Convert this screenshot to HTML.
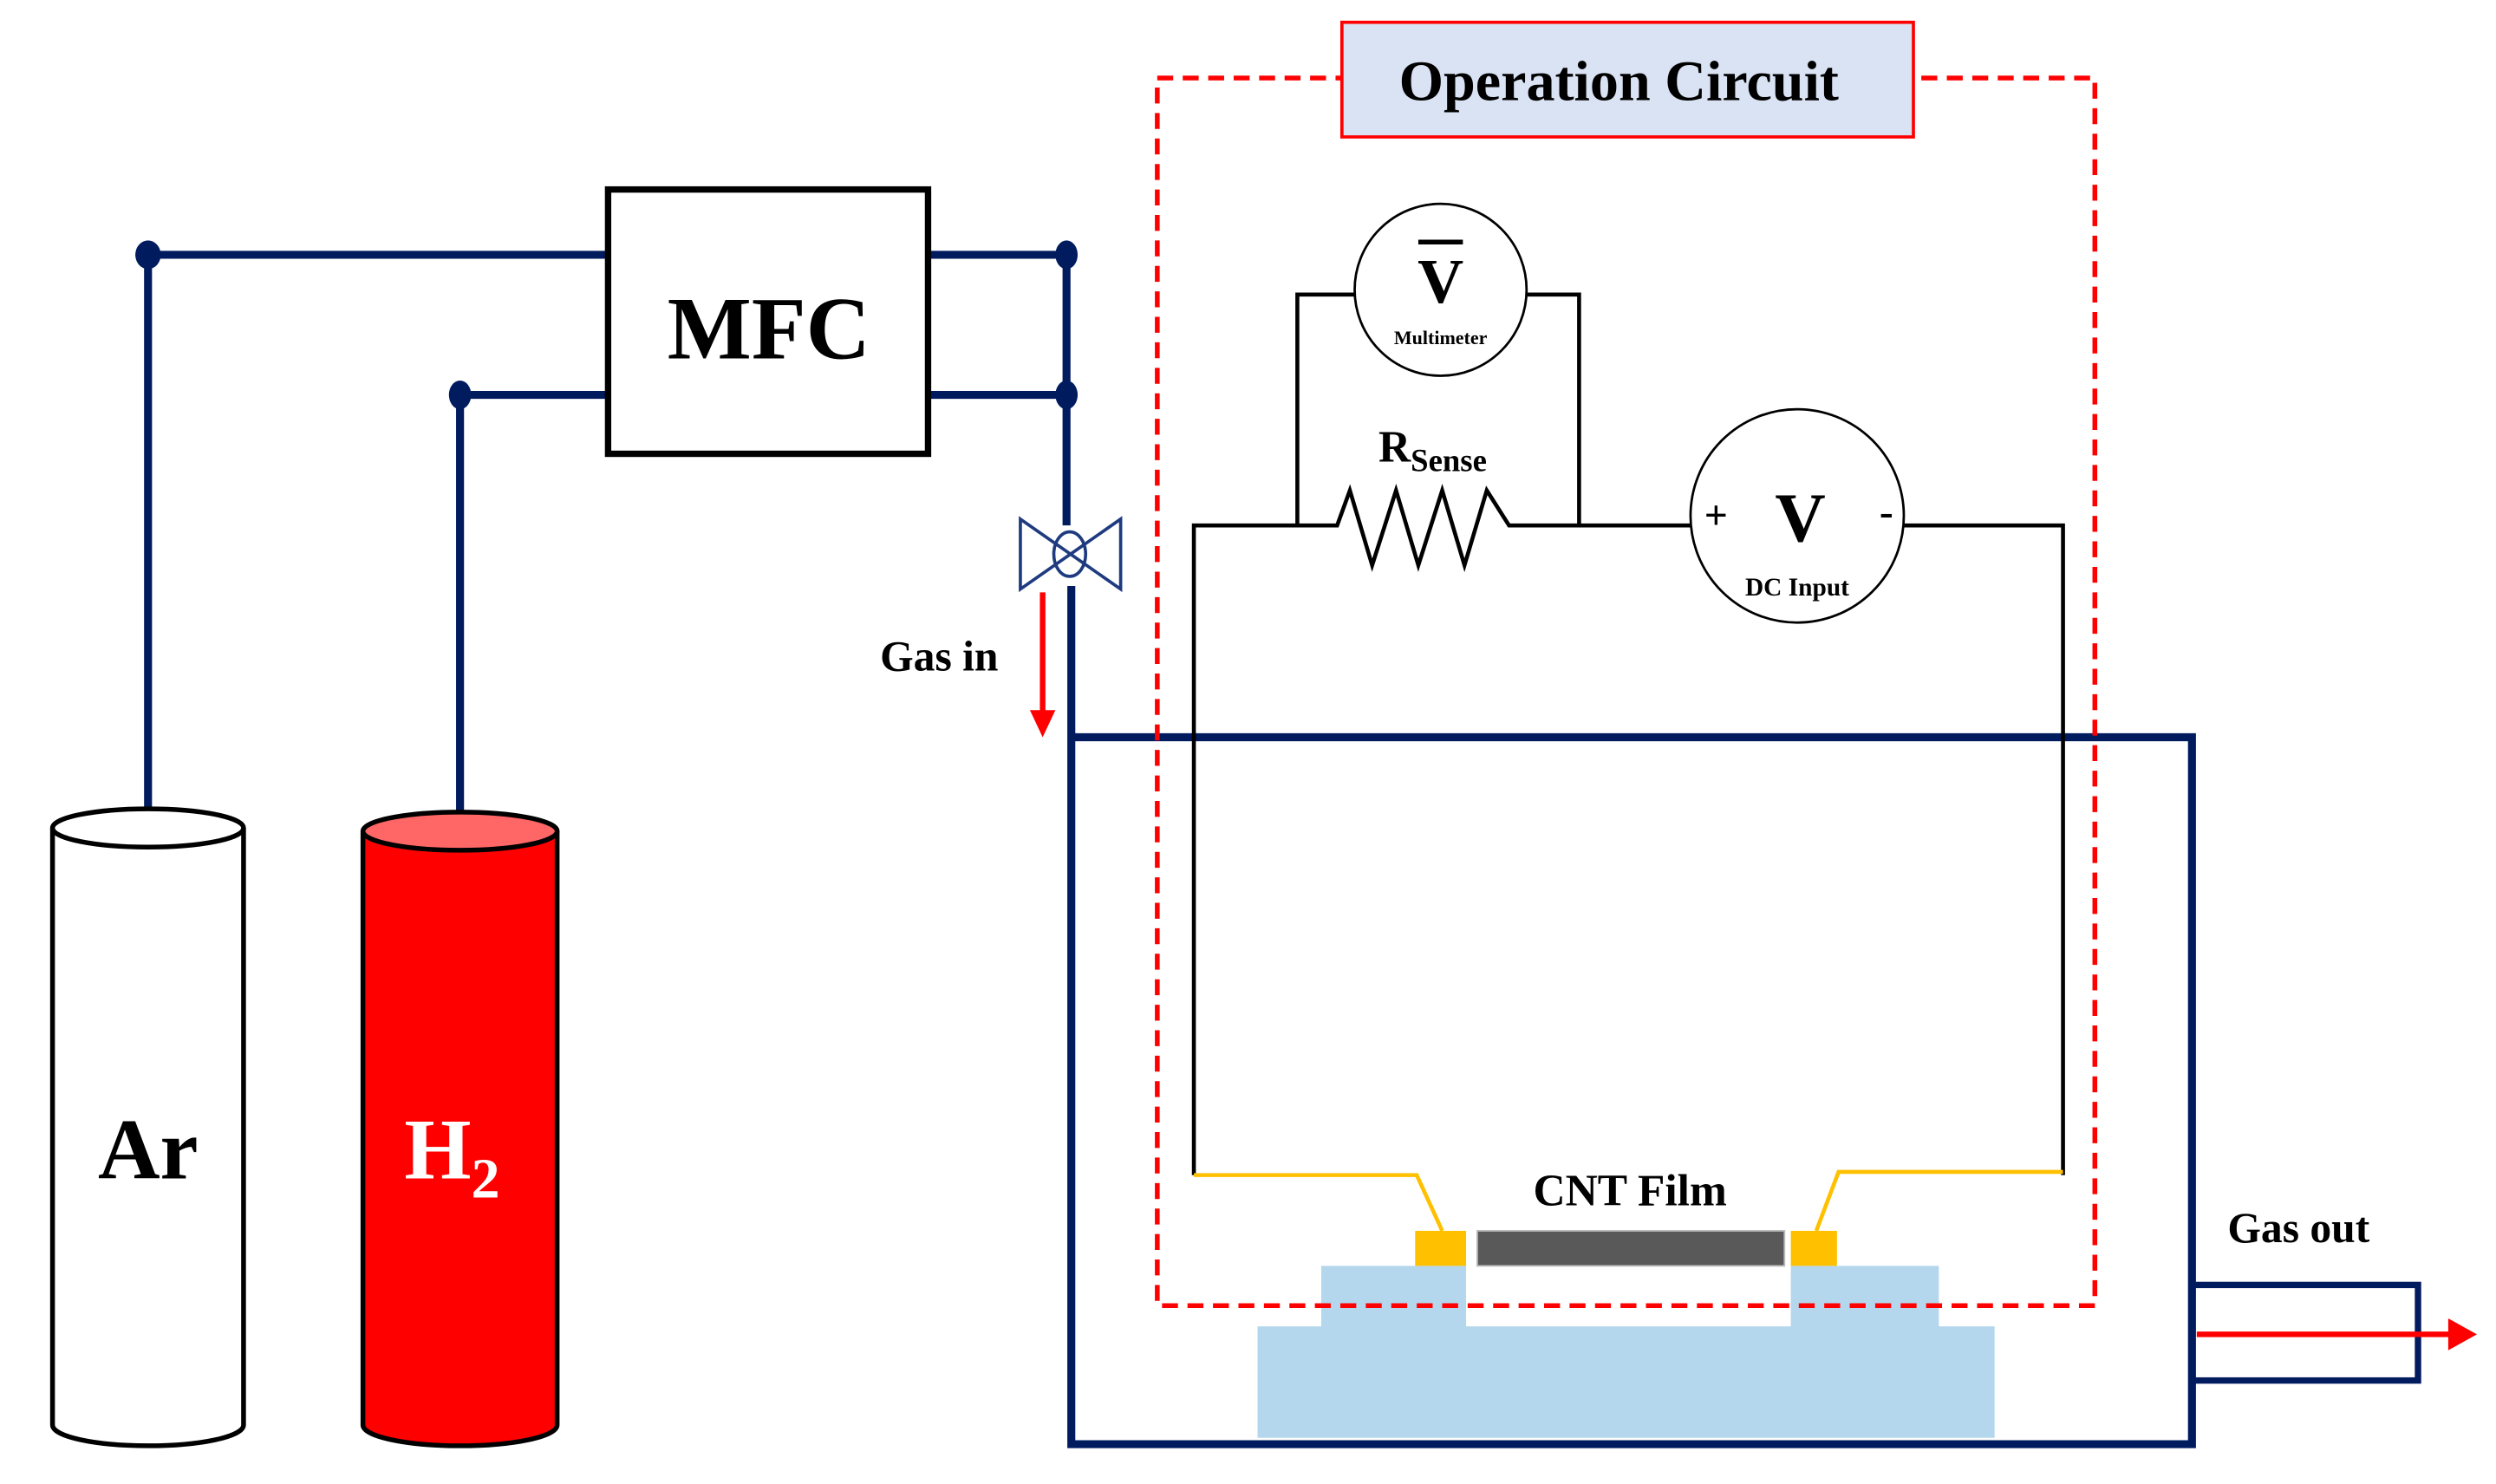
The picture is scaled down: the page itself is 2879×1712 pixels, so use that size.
<!DOCTYPE html>
<html><head><meta charset="utf-8"><style>html,body{margin:0;padding:0;background:#fff}svg{display:block}</style></head><body>
<svg width="2879" height="1712" viewBox="0 0 1568 932" preserveAspectRatio="none" xmlns="http://www.w3.org/2000/svg" font-family="Liberation Serif, serif" font-weight="bold">
<rect width="1568" height="932" fill="#fff"/>
<!-- substrate -->
<rect x="830" y="795" width="91" height="40" fill="#b4d7ee"/>
<rect x="1125" y="795" width="93" height="40" fill="#b4d7ee"/>
<rect x="790" y="833" width="463" height="70" fill="#b4d7ee"/>
<rect x="889" y="773" width="32" height="22" fill="#ffc000"/>
<rect x="1125" y="773" width="29" height="22" fill="#ffc000"/>
<rect x="928" y="773" width="193" height="22" fill="#595959" stroke="#bbb" stroke-width="1"/>
<!-- gas lines -->
<g stroke="#001b5e" stroke-width="5" fill="none">
<path d="M93 515 V160 H382 M583 160 H670 V330"/>
<path d="M289 515 V248 H382 M583 248 H670"/>
<path d="M673 368 V463 H1377 V907 H673 V463"/>
<rect x="1377" y="807" width="142" height="60" stroke-width="4"/>
</g>
<g fill="#001b5e"><ellipse cx="93" cy="160" rx="8" ry="9"/><ellipse cx="670" cy="160" rx="7" ry="9"/><ellipse cx="289" cy="248" rx="7" ry="9"/><ellipse cx="670" cy="248" rx="7" ry="9"/></g>
<!-- valve -->
<g stroke="#1f3b80" stroke-width="2" fill="#fff">
<path d="M641 326 L704 370 V326 L641 370 Z"/>
<ellipse cx="672" cy="348" rx="10" ry="14" fill="none"/>
</g>
<!-- MFC -->
<rect x="382" y="119" width="201" height="166" fill="#fff" stroke="#000" stroke-width="4"/>
<text x="483" y="225" font-size="56" text-anchor="middle">MFC</text>
<!-- cylinders -->
<path d="M33 520 V895 A60 13 0 0 0 153 895 V520" fill="#fff" stroke="#000" stroke-width="3"/>
<ellipse cx="93" cy="520" rx="60" ry="12" fill="#fff" stroke="#000" stroke-width="3"/>
<path d="M228 522 V895 A61 13 0 0 0 350 895 V522" fill="#ff0000" stroke="#000" stroke-width="3"/>
<ellipse cx="289" cy="522" rx="61" ry="12" fill="#ff6666" stroke="#000" stroke-width="3"/>
<text x="93" y="740" font-size="54" text-anchor="middle">Ar</text>
<text x="284" y="740" font-size="54" text-anchor="middle" fill="#fff">H<tspan font-size="36" dy="12">2</tspan></text>
<!-- arrows -->
<g stroke="#ff0000" stroke-width="3.5"><path d="M655 372 V448"/><path d="M1380 838 H1540"/></g>
<path d="M647 446 L655 463 L663 446 Z" fill="#ff0000"/>
<path d="M1538 828 L1556 838 L1538 848 Z" fill="#ff0000"/>
<text x="590" y="421" font-size="27" text-anchor="middle">Gas in</text>
<text x="1444" y="780" font-size="27" text-anchor="middle">Gas out</text>
<!-- circuit -->
<g stroke="#000" stroke-width="2.5" fill="none">
<path d="M750 738 V330 H840 L848 308 L862 355 L877 308 L891 355 L906 308 L920 355 L934 308 L948 330 H1063"/>
<path d="M815 330 V185 H851 M958 185 H992 V330"/>
<path d="M1196 330 H1296 V738"/>
<circle cx="905" cy="182" r="54" fill="#fff" stroke-width="1.5"/>
<circle cx="1129" cy="324" r="67" fill="#fff" stroke-width="1.5"/>
</g>
<g stroke="#ffc000" stroke-width="2.5" fill="none"><path d="M750 738 H890 L906 773"/><path d="M1296 736 H1155 L1141 773"/></g>
<text x="905" y="190" font-size="40" text-anchor="middle">V</text>
<path d="M891 152 H919" stroke="#000" stroke-width="3"/>
<text x="905" y="216" font-size="12" text-anchor="middle">Multimeter</text>
<text x="866" y="290" font-size="28">R<tspan font-size="20" dy="6">Sense</tspan></text>
<text x="1131" y="340" font-size="44" text-anchor="middle">V</text>
<text x="1078" y="332" font-size="26" text-anchor="middle">+</text>
<text x="1185" y="330" font-size="26" text-anchor="middle">-</text>
<text x="1129" y="374" font-size="16" text-anchor="middle">DC Input</text>
<text x="1024" y="757" font-size="28" text-anchor="middle">CNT Film</text>
<!-- dashed box -->
<rect x="727" y="49" width="589" height="771" fill="none" stroke="#ff0000" stroke-width="3" stroke-dasharray="10 6"/>
<rect x="843" y="14" width="359" height="72" fill="#dae3f3" stroke="#ff0000" stroke-width="2"/>
<text x="1017" y="63" font-size="36" text-anchor="middle">Operation  Circuit</text>
</svg>
</body></html>
